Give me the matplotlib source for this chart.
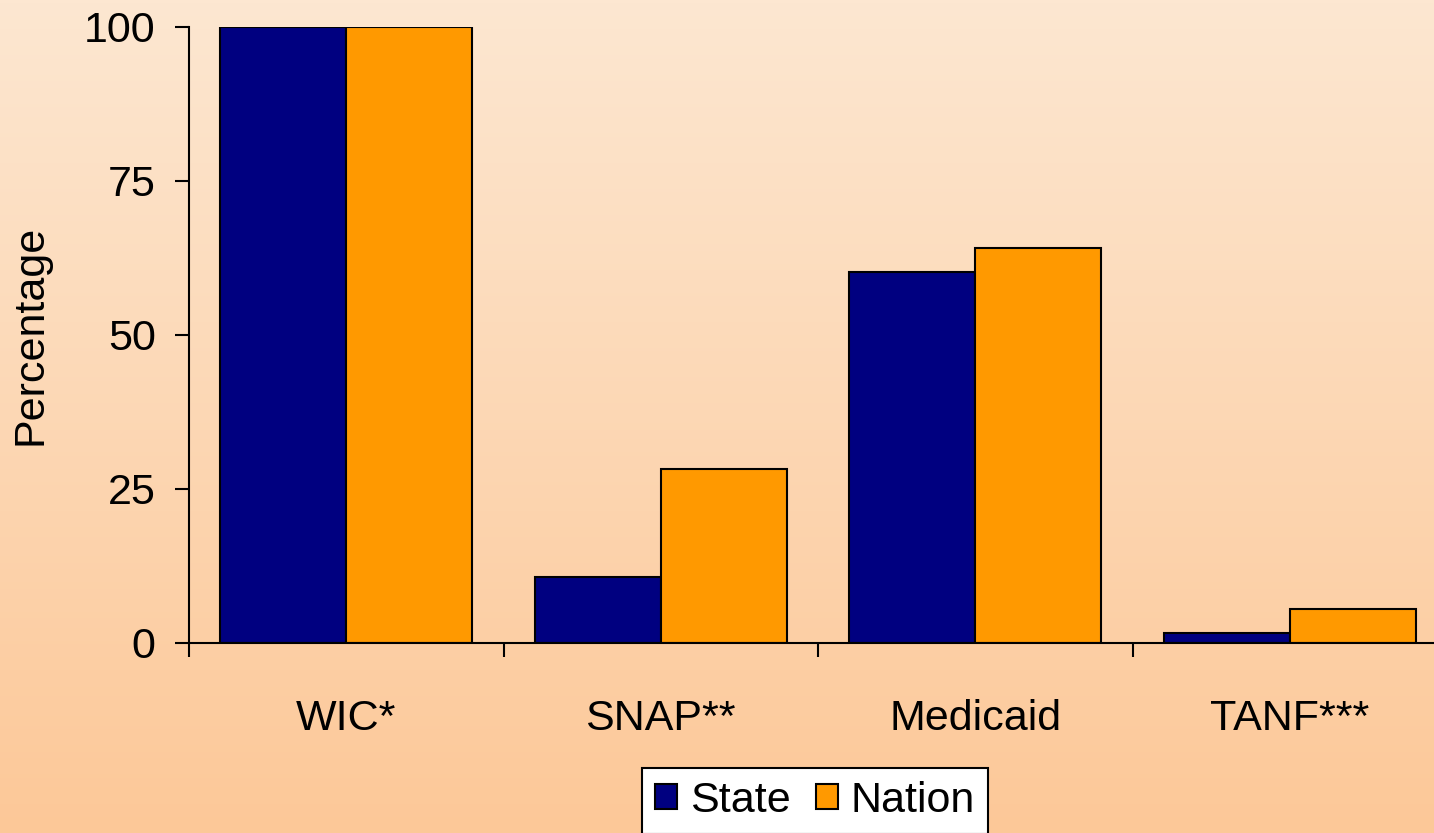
import matplotlib.pyplot as plt
import numpy as np

plt.rcParams['font.family'] = ['Liberation Sans', 'DejaVu Sans']

# Program participation, state vs nation
programs = ['WIC*', 'SNAP**', 'Medicaid', 'TANF***']
state = [100, 10.7, 60.2, 1.7]
nation = [100, 28.2, 64.2, 5.6]
y_ticks = [0, 25, 50, 75, 100]

fig = plt.figure(figsize=(14.34, 8.33), dpi=100)

# peach gradient background, lighter at the top
bg = fig.add_axes([0, 0, 1, 1], zorder=0)
top = np.array([253, 231, 209]) / 255
bottom = np.array([252, 200, 152]) / 255
t = np.linspace(0, 1, 256)[:, None]
grad = (top * (1 - t) + bottom * t)[:, None, :]
bg.imshow(grad, aspect='auto', extent=[0, 1, 0, 1])
bg.axis('off')

ax = fig.add_axes([189 / 1434, 190 / 833, 1258 / 1434, 616 / 833], zorder=1)
ax.patch.set_alpha(0)

x = np.arange(len(programs))
w = 0.4
ax.bar(x - w / 2, state, w, color='#000080', edgecolor='black', linewidth=1.5, label='State')
ax.bar(x + w / 2, nation, w, color='#FF9900', edgecolor='black', linewidth=1.5, label='Nation')

ax.set_xlim(-0.5, len(programs) - 0.5)
ax.set_ylim(0, 100)
ax.set_yticks(y_ticks)
ax.set_yticklabels([str(v) for v in y_ticks])
ax.set_xticks(x)
ax.set_xticklabels(programs)
ax.tick_params(axis='x', length=0, pad=40, labelsize=31)
ax.set_xticks(np.arange(len(programs)) - 0.5, minor=True)
ax.tick_params(axis='x', which='minor', length=10, width=1.5, direction='out')
ax.tick_params(axis='y', length=10, width=1.5, pad=14, labelsize=31)

for side in ['top', 'right']:
    ax.spines[side].set_visible(False)
for side in ['left', 'bottom']:
    ax.spines[side].set_linewidth(1.5)

ax.set_ylabel('Percentage', fontsize=31, labelpad=24)

leg = fig.legend(loc='upper center', bbox_to_anchor=(815 / 1434, 1 - 768 / 833), ncol=2,
                 fontsize=31, frameon=True, fancybox=False, edgecolor='black',
                 framealpha=1, handlelength=0.5, handleheight=0.5, handletextpad=0.3,
                 columnspacing=0.6, borderpad=0.3, borderaxespad=0)
leg.get_frame().set_linewidth(1.5)

fig.savefig('out.png', dpi=100)
